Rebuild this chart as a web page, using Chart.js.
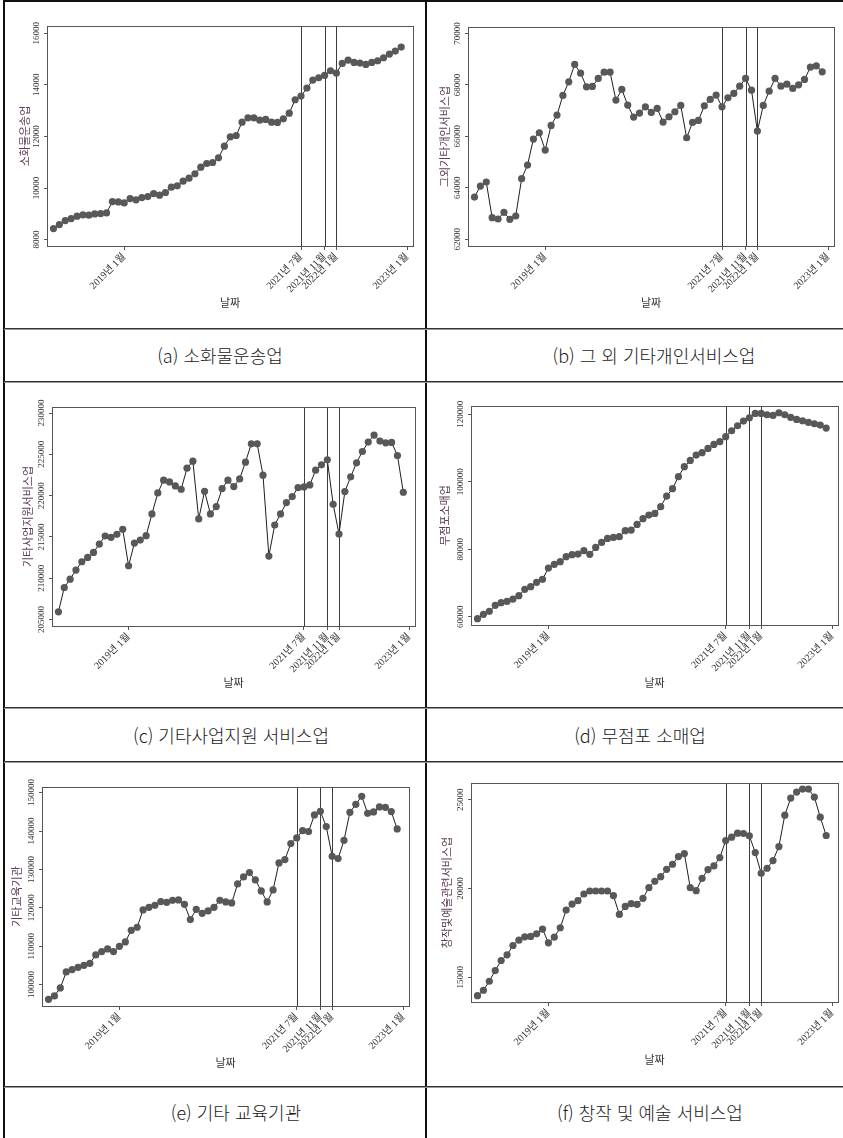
<!DOCTYPE html>
<html lang="ko">
<head>
<meta charset="utf-8">
<script src="https://cdn.jsdelivr.net/npm/chart.js@4.4.1/dist/chart.umd.min.js"></script>
<style>
  body { margin: 0; background: #fff; }
  #page { position: relative; width: 843px; height: 1138px; overflow: hidden; background: #fff; }
  .hl { position: absolute; left: 4px; width: 839px; height: 1px; background: #333; border-bottom: 1px solid #9a9a9a; }
  .vl { position: absolute; top: 0; height: 1138px; width: 2px; background: #111; }
  .tl { position: absolute; left: 3px; top: 0; width: 840px; height: 2px; background: #111; }
  canvas { position: absolute; }
  .cap { position: absolute; font-family: "Noto Sans CJK KR", "Noto Sans", sans-serif; font-size: 18px; font-weight: 300;
         color: #1a1a1a; white-space: nowrap; transform: translateX(-50%); line-height: 20px; }
</style>
</head>
<body>
<div id="page">
  <div class="tl"></div>
  <div class="vl" style="left:3px"></div>
  <div class="vl" style="left:425px"></div>
  <div class="hl" style="top:328px"></div>
  <div class="hl" style="top:381px"></div>
  <div class="hl" style="top:707px"></div>
  <div class="hl" style="top:761px"></div>
  <div class="hl" style="top:1086px"></div>

  <canvas id="chartA" width="418" height="324" style="left:6px;top:3px"></canvas>
  <canvas id="chartB" width="415" height="324" style="left:428px;top:3px"></canvas>
  <canvas id="chartC" width="418" height="322" style="left:6px;top:384px"></canvas>
  <canvas id="chartD" width="415" height="322" style="left:428px;top:384px"></canvas>
  <canvas id="chartE" width="418" height="321" style="left:6px;top:764px"></canvas>
  <canvas id="chartF" width="415" height="321" style="left:428px;top:764px"></canvas>

  <div class="cap" style="left:220px;top:345px">(a) 소화물운송업</div>
  <div class="cap" style="left:654px;top:345px">(b) 그 외 기타개인서비스업</div>
  <div class="cap" style="left:231px;top:725px">(c) 기타사업지원 서비스업</div>
  <div class="cap" style="left:640px;top:725px">(d) 무점포 소매업</div>
  <div class="cap" style="left:236px;top:1102px">(e) 기타 교육기관</div>
  <div class="cap" style="left:650px;top:1102px">(f) 창작 및 예술 서비스업</div>
</div>

<script>
// Monthly observations, January 2018 to December 2022
const months = [
  '2018-01','2018-02','2018-03','2018-04','2018-05','2018-06','2018-07','2018-08','2018-09','2018-10','2018-11','2018-12',
  '2019-01','2019-02','2019-03','2019-04','2019-05','2019-06','2019-07','2019-08','2019-09','2019-10','2019-11','2019-12',
  '2020-01','2020-02','2020-03','2020-04','2020-05','2020-06','2020-07','2020-08','2020-09','2020-10','2020-11','2020-12',
  '2021-01','2021-02','2021-03','2021-04','2021-05','2021-06','2021-07','2021-08','2021-09','2021-10','2021-11','2021-12',
  '2022-01','2022-02','2022-03','2022-04','2022-05','2022-06','2022-07','2022-08','2022-09','2022-10','2022-11','2022-12'
];

// x-axis ticks and their labels
const xTickMonths = ['2019-01', '2021-07', '2021-11', '2022-01', '2023-01'];
const xTickLabels = ['2019년 1월', '2021년 7월', '2021년 11월', '2022년 1월', '2023년 1월'];
// reference months marked with vertical lines
const eventMonths = ['2021-07', '2021-11', '2022-01'];

// series
const parcelDelivery = [8427,8582,8738,8815,8906,8957,8945,8996,9009,9035,9475,9462,
  9423,9592,9540,9630,9669,9786,9721,9825,10032,10083,10265,10381,
  10549,10808,10950,10989,11170,11623,11986,12037,12555,12723,12723,12632,
  12658,12555,12542,12684,12904,13422,13564,13875,14185,14276,14366,14547,
  14457,14832,14961,14871,14845,14793,14871,14936,15052,15194,15311,15466];
const otherPersonalServices = [63643,64070,64226,62841,62789,63048,62776,62906,64355,64886,65895,66141,
  65468,66426,66827,67590,68121,68794,68457,67926,67939,68250,68496,68496,
  67409,67823,67215,66749,66904,67150,66930,67085,66555,66762,66956,67202,
  65947,66542,66620,67189,67435,67603,67150,67500,67668,67952,68250,67797,
  66206,67202,67758,68250,67952,68030,67862,68004,68211,68690,68742,68509];
const businessSupport = [205930,208883,209894,210987,211998,212524,213130,214142,215113,214951,215315,215922,
  211513,214263,214627,215153,217782,220331,221868,221665,221180,220776,223324,224173,
  217176,220533,217782,218672,220857,221868,221099,222029,224052,226277,226277,222474,
  212686,216447,217782,219158,219886,220978,221059,221301,223081,223728,224335,218955,
  215355,220493,222272,223971,225346,226479,227329,226600,226398,226439,224861,220411];
const nonStoreRetail = [59407,60692,61581,63359,64150,64545,65236,66224,68102,68892,70176,71066,
  74425,75512,76302,77784,78377,78574,79562,78476,80550,82032,83218,83514,
  83712,85490,85688,87368,89047,90134,90628,92604,95766,97939,101496,104460,
  106337,107918,108610,109894,111080,111870,113352,115130,116612,117996,118984,120268,
  120268,119873,119675,120466,119873,119082,118490,118094,117600,117205,116810,115921];
const otherEducation = [96181,97049,99132,103298,103906,104514,105034,105555,107725,108593,109288,108593,
  109982,111110,114148,114930,119443,120138,120658,121613,121440,121960,122047,120919,
  116926,119617,118575,119183,120138,121960,121526,121266,126214,128036,129165,127255,
  124391,121526,124651,131682,132550,136716,138192,140102,139841,144181,145136,141143,
  133418,132810,137584,144876,146959,149042,144615,144962,146264,146178,145049,140536];
const creativeArts = [13964,14266,14774,15377,15942,16262,16789,17090,17278,17297,17448,17712,
  16940,17260,17787,18785,19124,19312,19689,19858,19858,19858,19858,19595,
  18540,18992,19143,19105,19444,20046,20404,20668,21082,21365,21798,21967,
  20046,19877,20574,21063,21270,21741,22701,22890,23116,23097,22965,22024,
  20856,21139,21572,22363,24133,25093,25432,25601,25601,25149,24020,22984];

// y-axis ticks
const ticksA = [8000, 10000, 12000, 14000, 16000];
const ticksB = [62000, 64000, 66000, 68000, 70000];
const ticksC = [205000, 210000, 215000, 220000, 225000, 230000];
const ticksD = [60000, 80000, 100000, 120000];
const ticksE = [100000, 110000, 120000, 130000, 140000, 150000];
const ticksF = [15000, 20000, 25000];

const serif = '"Liberation Serif", "Times New Roman", "Noto Sans CJK KR", serif';
const sans = '"Noto Sans CJK KR", "Noto Sans", sans-serif';

function monthIndex(m) {
  const [yy, mm] = m.split('-').map(Number);
  return (yy - 2018) * 12 + (mm - 1);
}

const framePlugin = {
  id: 'frame',
  beforeDatasetsDraw(chart) {
    const { ctx, chartArea: a, scales: { x } } = chart;
    ctx.save();
    ctx.strokeStyle = '#3c3c3c';
    ctx.lineWidth = 1;
    eventMonths.forEach(m => {
      const px = Math.round(x.getPixelForValue(monthIndex(m))) + 0.5;
      ctx.beginPath();
      ctx.moveTo(px, a.top);
      ctx.lineTo(px, a.bottom);
      ctx.stroke();
    });
    ctx.restore();
  },
  afterDraw(chart) {
    const { ctx, chartArea: a, scales: { y } } = chart;
    ctx.save();
    ctx.strokeStyle = '#555';
    ctx.lineWidth = 1;
    ctx.strokeRect(Math.round(a.left) + 0.5, Math.round(a.top) + 0.5,
                   Math.round(a.right - a.left), Math.round(a.bottom - a.top));
    ctx.font = '9px ' + serif;
    ctx.fillStyle = '#333';
    ctx.textAlign = 'center';
    ctx.textBaseline = 'middle';
    y.ticks.forEach(t => {
      const py = y.getPixelForValue(t.value);
      ctx.save();
      ctx.translate(a.left - 10, py);
      ctx.rotate(-Math.PI / 2);
      ctx.fillText(String(t.value), 0, 0);
      ctx.restore();
    });
    ctx.restore();
  }
};

// cv: canvas box [left, top, width, height]; box: plot frame [left, top, right, bottom];
// yTitleX / xTitleY: centre of the axis titles, all in page pixels
function panel(id, cv, box, values, yTicks, yMin, yMax, yTitle, yTitleX, xTitleY) {
  const [cl, ct, cw, ch] = cv;
  const [L, T, R, B] = box;
  const yTitleSize = 11, xTitleSize = 11;
  const yLH = yTitleSize * 1.2, xLH = xTitleSize * 1.2;
  const yWidth = L - cl;
  const xHeight = xTitleY - B + xLH / 2;

  new Chart(document.getElementById(id), {
    type: 'line',
    data: {
      datasets: [{
        data: values.map((v, i) => ({ x: monthIndex(months[i]), y: v })),
        borderColor: '#1e1e1e',
        borderWidth: 1,
        pointRadius: 3.6,
        pointBackgroundColor: '#585858',
        pointBorderColor: '#585858',
        pointBorderWidth: 0,
        tension: 0
      }]
    },
    options: {
      responsive: false,
      animation: false,
      devicePixelRatio: 1,
      layout: { padding: { left: 0, top: T - ct, right: cl + cw - R, bottom: ct + ch - B - xHeight } },
      plugins: { legend: { display: false }, tooltip: { enabled: false } },
      scales: {
        x: {
          type: 'linear',
          min: -1.1,
          max: 61,
          afterBuildTicks: s => { s.ticks = xTickMonths.map(m => ({ value: monthIndex(m) })); },
          afterFit: s => { s.height = xHeight; s.paddingLeft = 0; s.paddingRight = 0; },
          border: { display: false },
          grid: { drawOnChartArea: false, drawTicks: true, tickLength: 4, color: '#555' },
          ticks: {
            autoSkip: false,
            minRotation: 45,
            maxRotation: 45,
            padding: 1,
            color: '#333',
            font: { family: serif, size: 10 },
            callback: (v, i) => xTickLabels[i]
          },
          title: {
            display: true, text: '날짜', color: '#333',
            font: { family: sans, size: xTitleSize }, padding: { top: 0, bottom: 0 }
          }
        },
        y: {
          min: yMin,
          max: yMax,
          afterBuildTicks: s => { s.ticks = yTicks.map(v => ({ value: v })); },
          afterFit: s => { s.width = yWidth; s.paddingTop = 0; s.paddingBottom = 0; },
          border: { display: false },
          grid: { drawOnChartArea: false, drawTicks: true, tickLength: 3, color: '#555' },
          ticks: { display: false },
          title: {
            display: true, text: yTitle, color: '#5e3c58',
            font: { family: sans, size: yTitleSize },
            padding: { top: Math.max(yTitleX - cl - yLH / 2, 0), bottom: 0 }
          }
        }
      }
    },
    plugins: [framePlugin]
  });
}

panel('chartA', [6, 3, 418, 324], [47, 26, 413, 246], parcelDelivery, ticksA, 7751, 16283, '소화물운송업', 25, 303);
panel('chartB', [428, 3, 415, 324], [468, 27, 834, 246], otherPersonalServices, ticksB, 61740, 70250, '그외기타개인서비스업', 445, 303);
panel('chartC', [6, 384, 418, 322], [52, 407, 415, 626], businessSupport, ticksC, 204220, 230730, '기타사업지원서비스업', 28, 683);
panel('chartD', [428, 384, 415, 322], [471, 406, 838, 625], nonStoreRetail, ticksD, 57540, 122460, '무점포소매업', 445, 683);
panel('chartE', [6, 764, 418, 321], [42, 787, 409, 1006], otherEducation, ticksE, 94430, 151460, '기타교육기관', 17, 1063);
panel('chartF', [428, 764, 415, 321], [471, 783, 838, 1002], creativeArts, ticksF, 13605, 25943, '창작및예술관련서비스업', 447, 1060);
</script>
</body>
</html>
